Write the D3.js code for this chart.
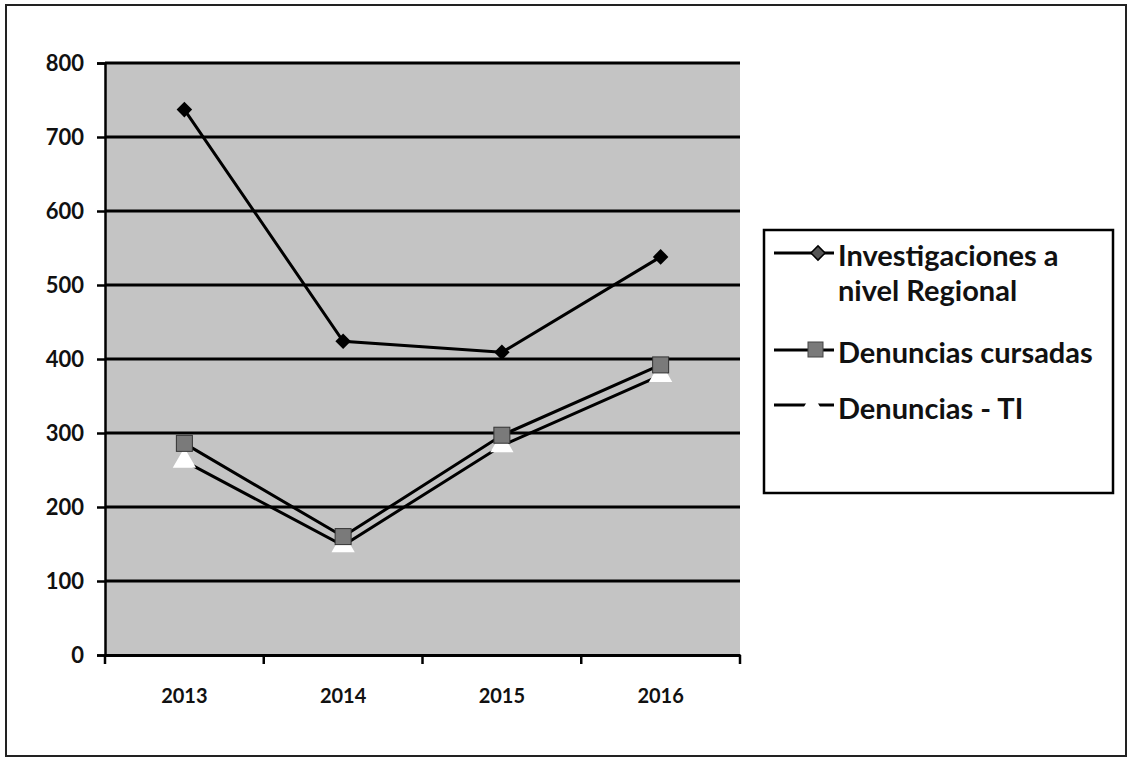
<!DOCTYPE html>
<html><head><meta charset="utf-8">
<script src="https://cdn.jsdelivr.net/npm/d3@7"></script>
<style>body{margin:0;background:#fff}svg{display:block}text{font-family:Lato,"Open Sans",sans-serif;font-weight:bold;fill:#111}</style>
</head><body>
<script>
const years = ["2013","2014","2015","2016"];
const investigaciones = [737, 424, 409, 538];
const denunciasCursadas = [286, 160, 297, 392];
const denunciasTI = [262, 148, 283, 378];
const yTicks = [0,100,200,300,400,500,600,700,800];
const seriesNames = ["Investigaciones a nivel Regional","Denuncias cursadas","Denuncias - TI"];

(function(){
const W=1130,H=758;
const svg=d3.select("body").append("svg").attr("width",W).attr("height",H);
svg.append("rect").attr("x",6).attr("y",5).attr("width",1120).attr("height",751).attr("fill","#fff").attr("stroke","#222").attr("stroke-width",2);

const pL=105,pR=740,pT=63,pB=655;
const x=d3.scaleBand().domain(years).range([pL,pR]);
const y=d3.scaleLinear().domain([0,800]).range([pB,pT]);

svg.append("rect").attr("x",pL).attr("y",pT).attr("width",pR-pL).attr("height",pB-pT).attr("fill","#c4c4c4");

svg.selectAll("line.grid").data(yTicks.filter(d=>d>0)).join("line")
  .attr("x1",pL).attr("x2",pR).attr("y1",d=>y(d)).attr("y2",d=>y(d))
  .attr("stroke","#000").attr("stroke-width",3);

const yAxis=svg.append("g").attr("transform",`translate(${pL},0)`)
  .call(d3.axisLeft(y).tickValues(yTicks).tickSize(8).tickPadding(13));
yAxis.select(".domain").attr("stroke","#000").attr("stroke-width",2.5);
yAxis.selectAll(".tick line").attr("stroke","#000").attr("stroke-width",2.5);
yAxis.selectAll(".tick text").attr("font-size",22).attr("font-family","Lato").attr("font-weight","bold").attr("fill","#111");

const xAxis=svg.append("g").attr("transform",`translate(0,${pB})`)
  .call(d3.axisBottom(x).tickSize(0).tickPadding(34));
xAxis.select(".domain").attr("stroke","#000").attr("stroke-width",3);
xAxis.selectAll(".tick text").attr("font-size",20).attr("font-family","Lato").attr("font-weight","bold").attr("fill","#111");
svg.selectAll("line.xt").data(years.map((d,i)=>i).concat([years.length])).join("line")
  .attr("x1",i=>pL+i*x.bandwidth()).attr("x2",i=>pL+i*x.bandwidth())
  .attr("y1",pB).attr("y2",pB+9).attr("stroke","#000").attr("stroke-width",2.5);

const line=d3.line().x((d,i)=>x(years[i])+x.bandwidth()/2).y(d=>y(d));
const cx=i=>x(years[i])+x.bandwidth()/2;

svg.append("path").attr("d",line(denunciasTI)).attr("fill","none").attr("stroke","#000").attr("stroke-width",3);
svg.selectAll("path.tri").data(denunciasTI).join("path")
  .attr("d",d3.symbol(d3.symbolTriangle,170)())
  .attr("transform",(d,i)=>`translate(${cx(i)},${y(d)})`)
  .attr("fill","#fff").attr("stroke","#fff").attr("stroke-width",2);
svg.append("path").attr("d",line(denunciasCursadas)).attr("fill","none").attr("stroke","#000").attr("stroke-width",3);
svg.selectAll("rect.sq").data(denunciasCursadas).join("rect")
  .attr("x",(d,i)=>cx(i)-8).attr("y",d=>y(d)-8).attr("width",16).attr("height",16)
  .attr("fill","#7a7a7a").attr("stroke","#333").attr("stroke-width",1);
svg.append("path").attr("d",line(investigaciones)).attr("fill","none").attr("stroke","#000").attr("stroke-width",3);
svg.selectAll("rect.dia").data(investigaciones).join("rect")
  .attr("x",-5.5).attr("y",-5.5).attr("width",11).attr("height",11)
  .attr("transform",(d,i)=>`translate(${cx(i)},${y(d)}) rotate(45)`)
  .attr("fill","#000");

const lg=svg.append("g");
lg.append("rect").attr("x",764).attr("y",230).attr("width",349).attr("height",263).attr("fill","#fff").attr("stroke","#000").attr("stroke-width",2.5);
const ly=[253,350,405];
ly.forEach(yy=>{
  lg.append("line").attr("x1",774).attr("x2",834).attr("y1",yy).attr("y2",yy).attr("stroke","#000").attr("stroke-width",3);
});
lg.append("rect").attr("x",-5).attr("y",-5).attr("width",10).attr("height",10).attr("transform",`translate(818,${ly[0]}) rotate(45)`).attr("fill","#555").attr("stroke","#000").attr("stroke-width",1.5);
lg.append("rect").attr("x",808).attr("y",ly[1]-8).attr("width",15).attr("height",15).attr("fill","#7a7a7a").attr("stroke","#444");
lg.append("path").attr("d",d3.symbol(d3.symbolTriangle,130)()).attr("transform",`translate(812,${ly[2]})`).attr("fill","#fff").attr("stroke","#fff").attr("stroke-width",2);
const t1=lg.append("text").attr("x",838).attr("y",266).attr("font-size",29);
t1.append("tspan").attr("x",838).text("Investigaciones a");
t1.append("tspan").attr("x",838).attr("dy",35).text("nivel Regional");
lg.append("text").attr("x",838).attr("y",363).attr("font-size",29).text(seriesNames[1]);
lg.append("text").attr("x",838).attr("y",419).attr("font-size",29).text(seriesNames[2]);
})();
</script>
</body></html>
